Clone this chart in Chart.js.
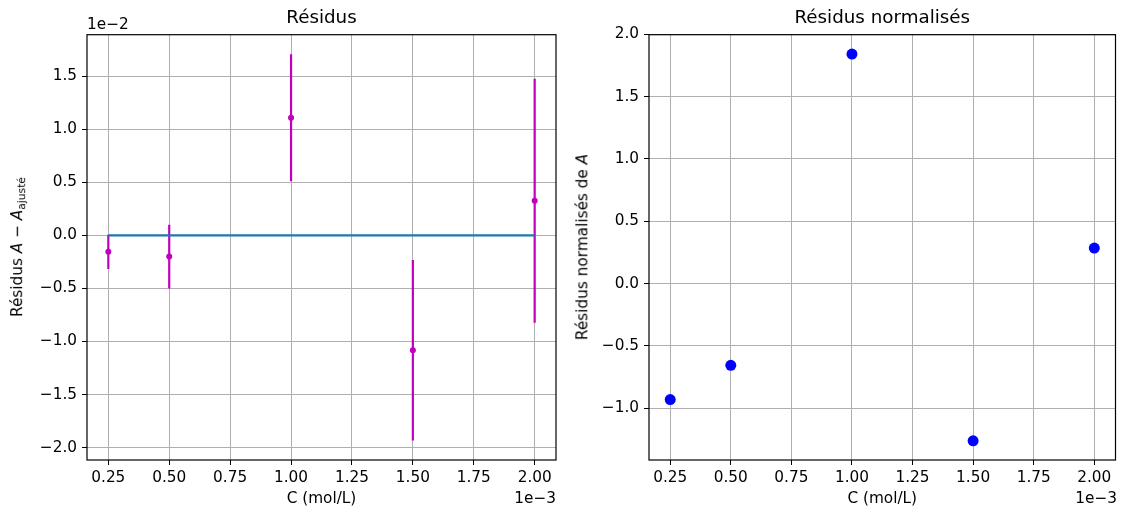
<!DOCTYPE html>
<html>
<head>
<meta charset="utf-8">
<script src="https://cdn.jsdelivr.net/npm/chart.js@4.4.0/dist/chart.umd.min.js"></script>
<style>
  body { margin: 0; background: #fff; width: 1121px; height: 508px; overflow: hidden; position: relative;
         font-family: 'DejaVu Sans', sans-serif; color: #000; }
  canvas { position: absolute; top: 0; }
  .txt { position: absolute; font-size: 15.3px; line-height: 1; white-space: nowrap; }
  .ylab { position: absolute; font-size: 15.3px; line-height: 1; white-space: nowrap;
          transform: translate(-50%, -50%) rotate(-90deg); }
  .ylab sub { font-size: 10.7px; vertical-align: -3px; }
</style>
</head>
<body>
<canvas id="left" width="560" height="508" style="left:0"></canvas>
<canvas id="right" width="561" height="508" style="left:560px"></canvas>

<div class="txt" style="left:87px; top:17px;">1e−2</div>
<div class="txt" style="right:565px; top:491px;">1e−3</div>
<div class="txt" style="right:4px; top:491px;">1e−3</div>
<div class="ylab" style="left:19px; top:247px;">Résidus <i>A</i> − <i>A</i><sub>ajusté</sub></div>
<div class="ylab" style="left:583px; top:247px;">Résidus normalisés de <i>A</i></div>

<script>
// concentrations in 1e-3 mol/L, residuals in 1e-2
const concentrations = [0.25, 0.5, 1.0, 1.5, 2.0];
const residuals = [-0.156, -0.2, 1.108, -1.082, 0.326];
const residualErrors = [0.162, 0.3, 0.598, 0.85, 1.149];
const normResiduals = [-0.931, -0.656, 1.842, -1.262, 0.285];

const xTicks = [0.25, 0.5, 0.75, 1.0, 1.25, 1.5, 1.75, 2.0];
const leftYTicks = [-2.0, -1.5, -1.0, -0.5, 0.0, 0.5, 1.0, 1.5];
const rightYTicks = [-1.0, -0.5, 0.0, 0.5, 1.0, 1.5, 2.0];

const xRange = [0.1625, 2.0875];
const leftYRange = [-2.116, 1.889];
const rightYRange = [-1.416, 1.997];

Chart.defaults.font.family = "'DejaVu Sans', sans-serif";
Chart.defaults.color = '#000';

const fmtY = v => (v < 0 ? '\u2212' : '') + Math.abs(v).toFixed(1);

// black box around the plot area, like matplotlib spines
const framePlugin = {
    id: 'frame',
    afterDatasetsDraw(chart) {
        const a = chart.chartArea, ctx = chart.ctx;
        ctx.save();
        ctx.strokeStyle = '#000';
        ctx.lineWidth = 1.2;
        ctx.strokeRect(a.left, a.top, a.right - a.left, a.bottom - a.top);
        ctx.restore();
    }
};

function makeOptions(title, yTicks, yRange, yWidth) {
    return {
        responsive: false,
        animation: false,
        layout: { padding: { left: 0, right: 4, top: 0, bottom: 0 } },
        plugins: {
            legend: { display: false },
            tooltip: { enabled: false },
            title: {
                display: true,
                text: title,
                fullSize: false,
                color: '#000',
                font: { size: 18.3, weight: 'normal' },
                padding: { top: 7, bottom: 5.74 }
            }
        },
        scales: {
            x: {
                type: 'linear',
                min: xRange[0],
                max: xRange[1],
                afterBuildTicks: s => { s.ticks = xTicks.map(v => ({ value: v })); },
                afterFit: s => { s.height = 48; },
                ticks: { callback: v => v.toFixed(2), font: { size: 15.3 }, padding: 4, maxRotation: 0, autoSkip: false },
                grid: { color: '#b0b0b0', lineWidth: 1, tickColor: '#000', tickLength: 5 },
                border: { display: false },
                title: { display: true, text: 'C (mol/L)', font: { size: 15.3 }, padding: { top: 0, bottom: 0 } }
            },
            y: {
                type: 'linear',
                min: yRange[0],
                max: yRange[1],
                afterBuildTicks: s => { s.ticks = yTicks.map(v => ({ value: v })); },
                afterFit: s => { s.width = yWidth; },
                ticks: { callback: fmtY, font: { size: 15.3 }, padding: 5, autoSkip: false },
                grid: { color: '#b0b0b0', lineWidth: 1, tickColor: '#000', tickLength: 5 },
                border: { display: false }
            }
        }
    };
}

// left: residuals with error bars
const leftSets = [{
    type: 'line',
    data: [{ x: concentrations[0], y: 0 }, { x: concentrations[concentrations.length - 1], y: 0 }],
    borderColor: '#1f77b4',
    borderWidth: 2.3,
    pointRadius: 0
}];
concentrations.forEach((c, i) => {
    leftSets.push({
        type: 'line',
        data: [{ x: c, y: residuals[i] - residualErrors[i] }, { x: c, y: residuals[i] + residualErrors[i] }],
        borderColor: '#bf00bf',
        borderWidth: 2.2,
        pointRadius: 0
    });
});
leftSets.push({
    type: 'scatter',
    data: concentrations.map((c, i) => ({ x: c, y: residuals[i] })),
    backgroundColor: '#bf00bf',
    borderColor: '#bf00bf',
    pointRadius: 3,
    borderWidth: 0
});

new Chart(document.getElementById('left'), {
    type: 'scatter',
    data: { datasets: leftSets },
    options: makeOptions('Résidus', leftYTicks, leftYRange, 87),
    plugins: [framePlugin]
});

// right: normalised residuals
new Chart(document.getElementById('right'), {
    type: 'scatter',
    data: {
        datasets: [{
            data: concentrations.map((c, i) => ({ x: c, y: normResiduals[i] })),
            backgroundColor: '#0000ff',
            borderColor: '#0000ff',
            pointRadius: 5.5,
            borderWidth: 0
        }]
    },
    options: makeOptions('Résidus normalisés', rightYTicks, rightYRange, 89),
    plugins: [framePlugin]
});
</script>
</body>
</html>
